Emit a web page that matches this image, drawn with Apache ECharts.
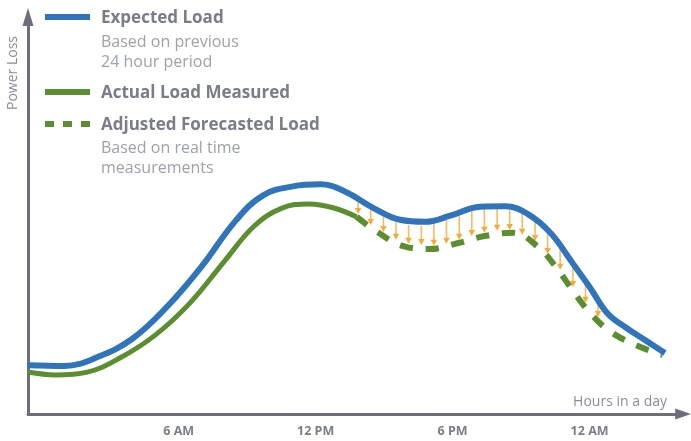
<!DOCTYPE html>
<html>
<head>
<meta charset="utf-8">
<script src="https://cdn.jsdelivr.net/npm/echarts@6/dist/echarts.min.js"></script>
<style>html,body{margin:0;padding:0;background:#fff}#c{width:691px;height:441px}</style>
</head>
<body>
<div id="c"></div>
<script>
// ---- data (hours of day, power-loss units) ----
var tickHours = [6, 12, 18, 24];
var tickLabels = ['6 AM', '12 PM', '6 PM', '12 AM'];

var expectedLoad = [
  [-0.6,12.0],[1.0,11.8],[2.5,14.1],[4.0,18.6],[5.5,26.4],[7.0,36.2],[8.5,47.5],[9.7,53.7],
  [11.0,55.9],[12.2,56.4],[13.3,54.6],[14.5,50.7],[15.7,47.7],[16.8,47.2],[17.9,48.7],[19.2,50.9],
  [20.3,51.0],[21.3,49.1],[22.3,44.4],[23.2,37.5],[24.0,31.2],[24.8,24.6],[25.6,21.2],[26.5,17.9],[27.3,15.0]
];
var actualLoad = [
  [-0.6,10.3],[0.6,9.6],[2.0,10.3],[3.5,14.0],[5.0,19.5],[6.5,27.3],[8.0,37.5],[9.3,46.1],
  [10.5,50.5],[11.7,51.6],[12.8,50.6],[13.8,48.4]
];
var adjustedForecast = [
  [13.8,48.4],[14.7,44.7],[15.8,41.3],[17.0,40.5],[18.25,42.0],[19.4,43.7],[20.65,44.5],[21.75,41.0],
  [22.55,35.9],[23.3,30.0],[24.1,24.3],[25.0,19.9],[26.2,16.5],[27.2,14.5]
];
// correction arrows: hour, from (expected), to (adjusted)
var arrowHours = [13.86,14.41,14.97,15.52,16.07,16.63,17.18,17.73,18.29,18.84,19.39,19.95,20.50,21.05,21.61,22.16,22.71,23.27,23.82,24.37];
var arrowFrom  = [52.6,50.1,48.4,47.2,46.4,46.2,46.7,47.7,48.9,49.9,50.4,50.4,50.1,49.1,47.4,44.7,41.0,36.9,33.2,28.0];
var arrowTo    = [49.1,46.4,44.7,42.8,41.8,41.5,41.3,41.8,42.8,43.7,44.5,45.0,45.2,44.0,42.5,39.3,35.4,31.2,27.3,23.8];

var BLUE = '#3074bc', GREEN = '#5b8e2e', ORANGE = '#f9a934', AXIS = '#6c6f7b';
var TITLE = '#7a7d89', SUB = '#9fa1ab';
var FONT = '"Open Sans", "Noto Sans", sans-serif';

var arrowData = arrowHours.map(function (h, i) { return [h, arrowFrom[i], arrowTo[i]]; });

var chart = echarts.init(document.getElementById('c'), null, {renderer: 'canvas'});
function txt(x, y, s, size, weight, color) {
  return {type: 'text', x: x, y: y, style: {text: s, fill: color, font: weight + ' ' + size + 'px ' + FONT, verticalAlign: 'middle'}};
}
chart.setOption({
  animation: false,
  grid: {left: 28, right: 7.8, top: 17, bottom: 27},
  xAxis: {
    type: 'value', min: -0.6, max: 28.1,
    axisLine: {onZero: false, symbol: ['none', 'triangle'], symbolSize: [11, 16], lineStyle: {color: AXIS, width: 3}},
    axisTick: {show: false}, splitLine: {show: false},
    axisLabel: {
      customValues: tickHours, margin: 11, color: '#7b7e8a', fontWeight: 'bold', fontSize: 12.5, fontFamily: FONT,
      formatter: function (v) { var i = tickHours.indexOf(v); return i >= 0 ? tickLabels[i] : ''; }
    }
  },
  yAxis: {
    type: 'value', min: 0, max: 97.5,
    axisLine: {show: true, onZero: false, symbol: ['none', 'triangle'], symbolSize: [11, 18], lineStyle: {color: AXIS, width: 3}},
    axisTick: {show: false}, splitLine: {show: false}, axisLabel: {show: false}
  },
  graphic: [
    {type: 'line', shape: {x1: 45, y1: 17, x2: 90, y2: 17}, style: {stroke: BLUE, lineWidth: 6}},
    txt(101, 18, 'Expected Load', 17, 'bold', TITLE),
    txt(101, 42, 'Based on previous', 16, 'normal', SUB),
    txt(101, 62, '24 hour period', 16, 'normal', SUB),
    {type: 'line', shape: {x1: 45, y1: 92, x2: 90, y2: 92}, style: {stroke: GREEN, lineWidth: 6}},
    txt(101, 93, 'Actual Load Measured', 17, 'bold', TITLE),
    {type: 'line', shape: {x1: 45, y1: 124, x2: 90, y2: 124}, style: {stroke: GREEN, lineWidth: 6, lineDash: [9, 9]}},
    txt(101, 125, 'Adjusted Forecasted Load', 17, 'bold', TITLE),
    txt(101, 148, 'Based on real time', 16, 'normal', SUB),
    txt(101, 168, 'measurements', 16, 'normal', SUB),
    {type: 'text', x: 13, y: 73, rotation: Math.PI / 2,
      style: {text: 'Power Loss', fill: '#8a8d99', font: 'normal 14px ' + FONT, align: 'center', verticalAlign: 'middle'}},
    {type: 'text', x: 667, y: 402,
      style: {text: 'Hours in a day', fill: '#8a8d99', font: 'normal 14px ' + FONT, align: 'right', verticalAlign: 'middle'}}
  ],
  series: [
    {
      type: 'custom', z: 1, data: arrowData, encode: {x: 0, y: [1, 2]},
      renderItem: function (params, api) {
        var p1 = api.coord([api.value(0), api.value(1)]);
        var p2 = api.coord([api.value(0), api.value(2)]);
        var hl = 6, hw = 3.2;
        return {type: 'group', children: [
          {type: 'line', shape: {x1: p1[0], y1: p1[1], x2: p2[0], y2: p2[1] - hl + 1},
            style: {stroke: ORANGE, lineWidth: 1.6, opacity: 0.8}},
          {type: 'polygon', shape: {points: [[p2[0] - hw, p2[1] - hl], [p2[0] + hw, p2[1] - hl], [p2[0], p2[1]]]},
            style: {fill: ORANGE}}
        ]};
      }
    },
    {type: 'line', z: 3, data: expectedLoad, smooth: 0.4, showSymbol: false, lineStyle: {color: BLUE, width: 6}},
    {type: 'line', z: 2, data: actualLoad, smooth: 0.4, showSymbol: false, lineStyle: {color: GREEN, width: 5}},
    {type: 'line', z: 2, data: adjustedForecast, smooth: 0.4, showSymbol: false,
      lineStyle: {color: GREEN, width: 6, type: [13, 13], cap: 'butt'}}
  ]
});
</script>
</body>
</html>
